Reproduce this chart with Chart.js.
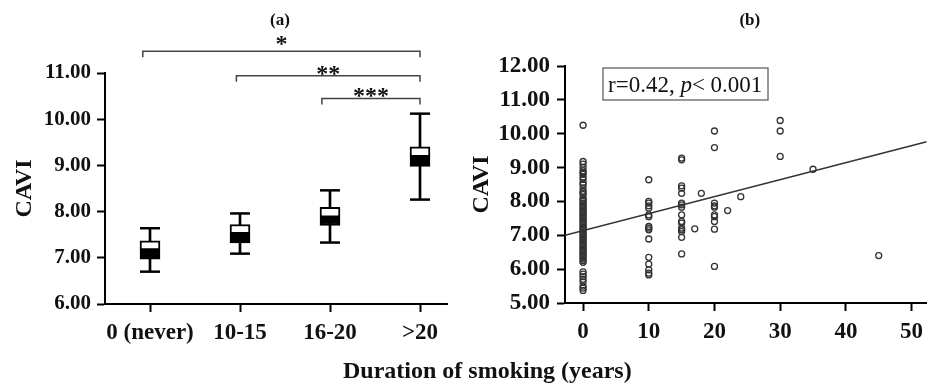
<!DOCTYPE html>
<html>
<head>
<meta charset="utf-8">
<script src="https://cdn.jsdelivr.net/npm/chart.js@4.4.1/dist/chart.umd.min.js"></script>
<style>
  body { margin: 0; background: #fff; }
  #wrap { position: relative; width: 932px; height: 385px; overflow: hidden; }
  canvas { position: absolute; top: 0; }
  #xtitle { position: absolute; left: 343px; top: 358px; font: bold 24px "Liberation Serif"; line-height: 24px; color: #111; white-space: nowrap; }
</style>
</head>
<body>
<div id="wrap">
  <canvas id="box-chart" width="460" height="385" style="left:0"></canvas>
  <canvas id="scatter-chart" width="472" height="385" style="left:460px"></canvas>
  <div id="xtitle">Duration of smoking (years)</div>
</div>
<script>
// panel (a): box plots per smoking group
const groups = ['0 (never)', '10-15', '16-20', '>20'];
const whiskerLow = [6.70, 7.09, 7.33, 8.26];
const q1 = [6.97, 7.32, 7.70, 8.98];
const median = [7.17, 7.52, 7.88, 9.19];
const q3 = [7.37, 7.72, 8.09, 9.40];
const whiskerHigh = [7.64, 7.96, 8.46, 10.12];

// significance brackets
const bracketFrom = [-0.08, 0.96, 1.91];
const bracketTo = [3, 3, 3];
const bracketLevel = [11.47, 10.94, 10.45];
const bracketStars = ['*', '**', '***'];

// panel (b): scatter of years vs CAVI
const years0 = [10.25, 9.18, 9.1, 9.0, 8.9, 8.85, 8.8, 8.72, 8.65, 8.55, 8.5, 8.4, 8.3, 8.25, 8.2, 8.1, 8.05, 8.0,
  7.95, 7.9, 7.85, 7.8, 7.75, 7.7, 7.65, 7.6, 7.55, 7.5, 7.45, 7.4, 7.35, 7.3, 7.25, 7.2, 7.15, 7.1, 7.05, 7.0,
  6.95, 6.9, 6.85, 6.8, 6.75, 6.7, 6.65, 6.6, 6.55, 6.5, 6.45, 6.4, 6.35, 6.3, 6.25, 6.2,
  5.92, 5.85, 5.78, 5.7, 5.62, 5.5, 5.44, 5.37];
const years10 = [8.64, 8.0, 7.95, 7.87, 7.8, 7.6, 7.55, 7.26, 7.21, 7.16, 6.89, 6.35, 6.15, 5.98, 5.88, 5.83];
const years15 = [9.28, 9.23, 8.46, 8.39, 8.24, 7.95, 7.9, 7.83, 7.6, 7.41, 7.36, 7.21, 7.16, 7.11, 6.94, 6.45];
const years20 = [10.08, 9.59, 7.95, 7.87, 7.83, 7.6, 7.55, 7.41, 7.18, 6.08];
const years30 = [10.39, 10.08, 9.33];
const otherX = [17, 18, 22, 24, 35, 40, 45];
const otherY = [7.19, 8.24, 7.73, 8.14, 8.95, 12.42, 6.40];
const fitX = [-2.75, 52.3];
const fitY = [7.0, 9.76];

const serif = 'Liberation Serif';
const ink = '#111';

function column(x, ys) {
  return ys.map(y => ({x: x, y: y}));
}

const boxDecor = {
  id: 'boxDecor',
  afterDraw(chart) {
    const {ctx, chartArea, scales: {x, y}} = chart;
    ctx.save();
    ctx.fillStyle = ink;
    ctx.font = 'bold 17px ' + serif;
    ctx.textAlign = 'center';
    ctx.textBaseline = 'middle';
    ctx.fillText('(a)', (chartArea.left + chartArea.right) / 2 + 4, 21);

    ctx.strokeStyle = '#444';
    ctx.lineWidth = 1.5;
    ctx.font = 'bold 24px ' + serif;
    ctx.textBaseline = 'alphabetic';
    for (let i = 0; i < bracketLevel.length; i++) {
      const x1 = x.getPixelForValue(bracketFrom[i]);
      const x2 = x.getPixelForValue(bracketTo[i]);
      const yy = y.getPixelForValue(bracketLevel[i]);
      ctx.beginPath();
      ctx.moveTo(x1, yy + 6);
      ctx.lineTo(x1, yy);
      ctx.lineTo(x2, yy);
      ctx.lineTo(x2, yy + 6);
      ctx.stroke();
      ctx.fillText(bracketStars[i], (x1 + x2) / 2, yy + (i === 0 ? 0 : 5));
    }
    ctx.restore();
  }
};

new Chart(document.getElementById('box-chart'), {
  type: 'bar',
  data: {
    datasets: [
      {
        label: 'Q1-median',
        data: groups.map((g, i) => ({x: i, y: [q1[i], median[i]]})),
        backgroundColor: '#000',
        borderColor: '#000',
        borderWidth: 2,
        borderSkipped: false,
        barThickness: 20,
        grouped: false
      },
      {
        label: 'median-Q3',
        data: groups.map((g, i) => ({x: i, y: [median[i], q3[i]]})),
        backgroundColor: '#fff',
        borderColor: '#000',
        borderWidth: 2,
        borderSkipped: false,
        barThickness: 20,
        grouped: false
      },
      {
        label: 'whisker',
        data: groups.map((g, i) => ({x: i, y: [whiskerLow[i], whiskerHigh[i]]})),
        backgroundColor: '#000',
        borderWidth: 0,
        barThickness: 2,
        grouped: false
      },
      {
        type: 'scatter',
        label: 'caps',
        data: groups.map((g, i) => ({x: i, y: whiskerLow[i]})).concat(groups.map((g, i) => ({x: i, y: whiskerHigh[i]}))),
        pointStyle: 'line',
        pointRadius: 10,
        borderColor: '#000',
        borderWidth: 2.5
      }
    ]
  },
  options: {
    responsive: false,
    animation: false,
    layout: {padding: {top: 73, right: 13, bottom: 41, left: 0}},
    scales: {
      x: {
        type: 'linear',
        min: -0.5,
        max: 3.3,
        offset: false,
        afterFit: s => { s.height = 40; },
        border: {display: true, color: '#000', width: 2},
        grid: {offset: false, drawOnChartArea: false, drawTicks: true, tickLength: 8, tickWidth: 2, tickColor: '#000'},
        ticks: {
          stepSize: 1,
          includeBounds: false,
          autoSkip: false,
          maxRotation: 0,
          minRotation: 0,
          padding: 7,
          color: ink,
          font: {family: serif, size: 23, weight: 'bold'},
          callback: v => groups[v] ?? ''
        }
      },
      y: {
        min: 6,
        max: 11,
        afterFit: s => { s.width = 105; },
        border: {display: true, color: '#000', width: 2},
        grid: {drawOnChartArea: false, drawTicks: true, tickLength: 8, tickWidth: 2, tickColor: '#000'},
        ticks: {
          stepSize: 1,
          padding: 6,
          color: ink,
          font: {family: serif, size: 21, weight: 'bold'},
          callback: v => v.toFixed(2)
        },
        title: {
          display: true,
          text: 'CAVI',
          color: ink,
          padding: {top: 10, bottom: 0},
          font: {family: serif, size: 24, weight: 'bold'}
        }
      }
    },
    plugins: {legend: {display: false}, tooltip: {enabled: false}}
  },
  plugins: [boxDecor]
});

const scatterDecor = {
  id: 'scatterDecor',
  afterDraw(chart) {
    const {ctx, chartArea} = chart;
    ctx.save();
    ctx.fillStyle = ink;
    ctx.font = 'bold 17px ' + serif;
    ctx.textAlign = 'center';
    ctx.textBaseline = 'middle';
    ctx.fillText('(b)', (chartArea.left + chartArea.right) / 2 + 4, 21);

    // stats box
    const bx = chartArea.left + 38, by = chartArea.top + 2, bw = 165, bh = 32;
    ctx.strokeStyle = '#555';
    ctx.lineWidth = 1.2;
    ctx.strokeRect(bx, by, bw, bh);
    ctx.textAlign = 'left';
    ctx.textBaseline = 'alphabetic';
    const base = by + 24;
    let tx = bx + 5;
    ctx.font = '23px ' + serif;
    const a = 'r=0.42, ';
    ctx.fillText(a, tx, base);
    tx += ctx.measureText(a).width;
    ctx.font = 'italic 23px ' + serif;
    ctx.fillText('p', tx, base);
    tx += ctx.measureText('p').width;
    ctx.font = '23px ' + serif;
    ctx.fillText('< 0.001', tx, base);
    ctx.restore();
  }
};

const pointStyle = {
  pointRadius: 3,
  pointBorderWidth: 1.3,
  pointBorderColor: '#333',
  pointBackgroundColor: 'rgba(0,0,0,0)'
};

new Chart(document.getElementById('scatter-chart'), {
  type: 'scatter',
  data: {
    datasets: [
      {
        label: 'CAVI',
        data: column(0, years0)
          .concat(column(10, years10))
          .concat(column(15, years15))
          .concat(column(20, years20))
          .concat(column(30, years30))
          .concat(otherX.map((x, i) => ({x: x, y: otherY[i]}))),
        clip: false,
        ...pointStyle
      },
      {
        type: 'line',
        label: 'fit',
        data: fitX.map((x, i) => ({x: x, y: fitY[i]})),
        borderColor: '#333',
        borderWidth: 1.5,
        pointRadius: 0
      }
    ]
  },
  options: {
    responsive: false,
    animation: false,
    layout: {padding: {top: 66, right: 0, bottom: 42, left: 0}},
    scales: {
      x: {
        type: 'linear',
        min: -2.75,
        max: 52.3,
        afterFit: s => { s.height = 40; },
        border: {display: true, color: '#000', width: 2},
        grid: {drawOnChartArea: false, drawTicks: true, tickLength: 8, tickWidth: 2, tickColor: '#000'},
        ticks: {
          stepSize: 10,
          includeBounds: false,
          padding: 7,
          color: ink,
          font: {family: serif, size: 23, weight: 'bold'}
        }
      },
      y: {
        min: 5,
        max: 12,
        afterFit: s => { s.width = 105; },
        border: {display: true, color: '#000', width: 2},
        grid: {drawOnChartArea: false, drawTicks: true, tickLength: 8, tickWidth: 2, tickColor: '#000'},
        ticks: {
          stepSize: 1,
          padding: 7,
          color: ink,
          font: {family: serif, size: 23, weight: 'bold'},
          callback: v => v.toFixed(2)
        },
        title: {
          display: true,
          text: 'CAVI',
          color: ink,
          padding: {top: 7, bottom: 0},
          font: {family: serif, size: 24, weight: 'bold'}
        }
      }
    },
    plugins: {legend: {display: false}, tooltip: {enabled: false}}
  },
  plugins: [scatterDecor]
});
</script>
</body>
</html>
